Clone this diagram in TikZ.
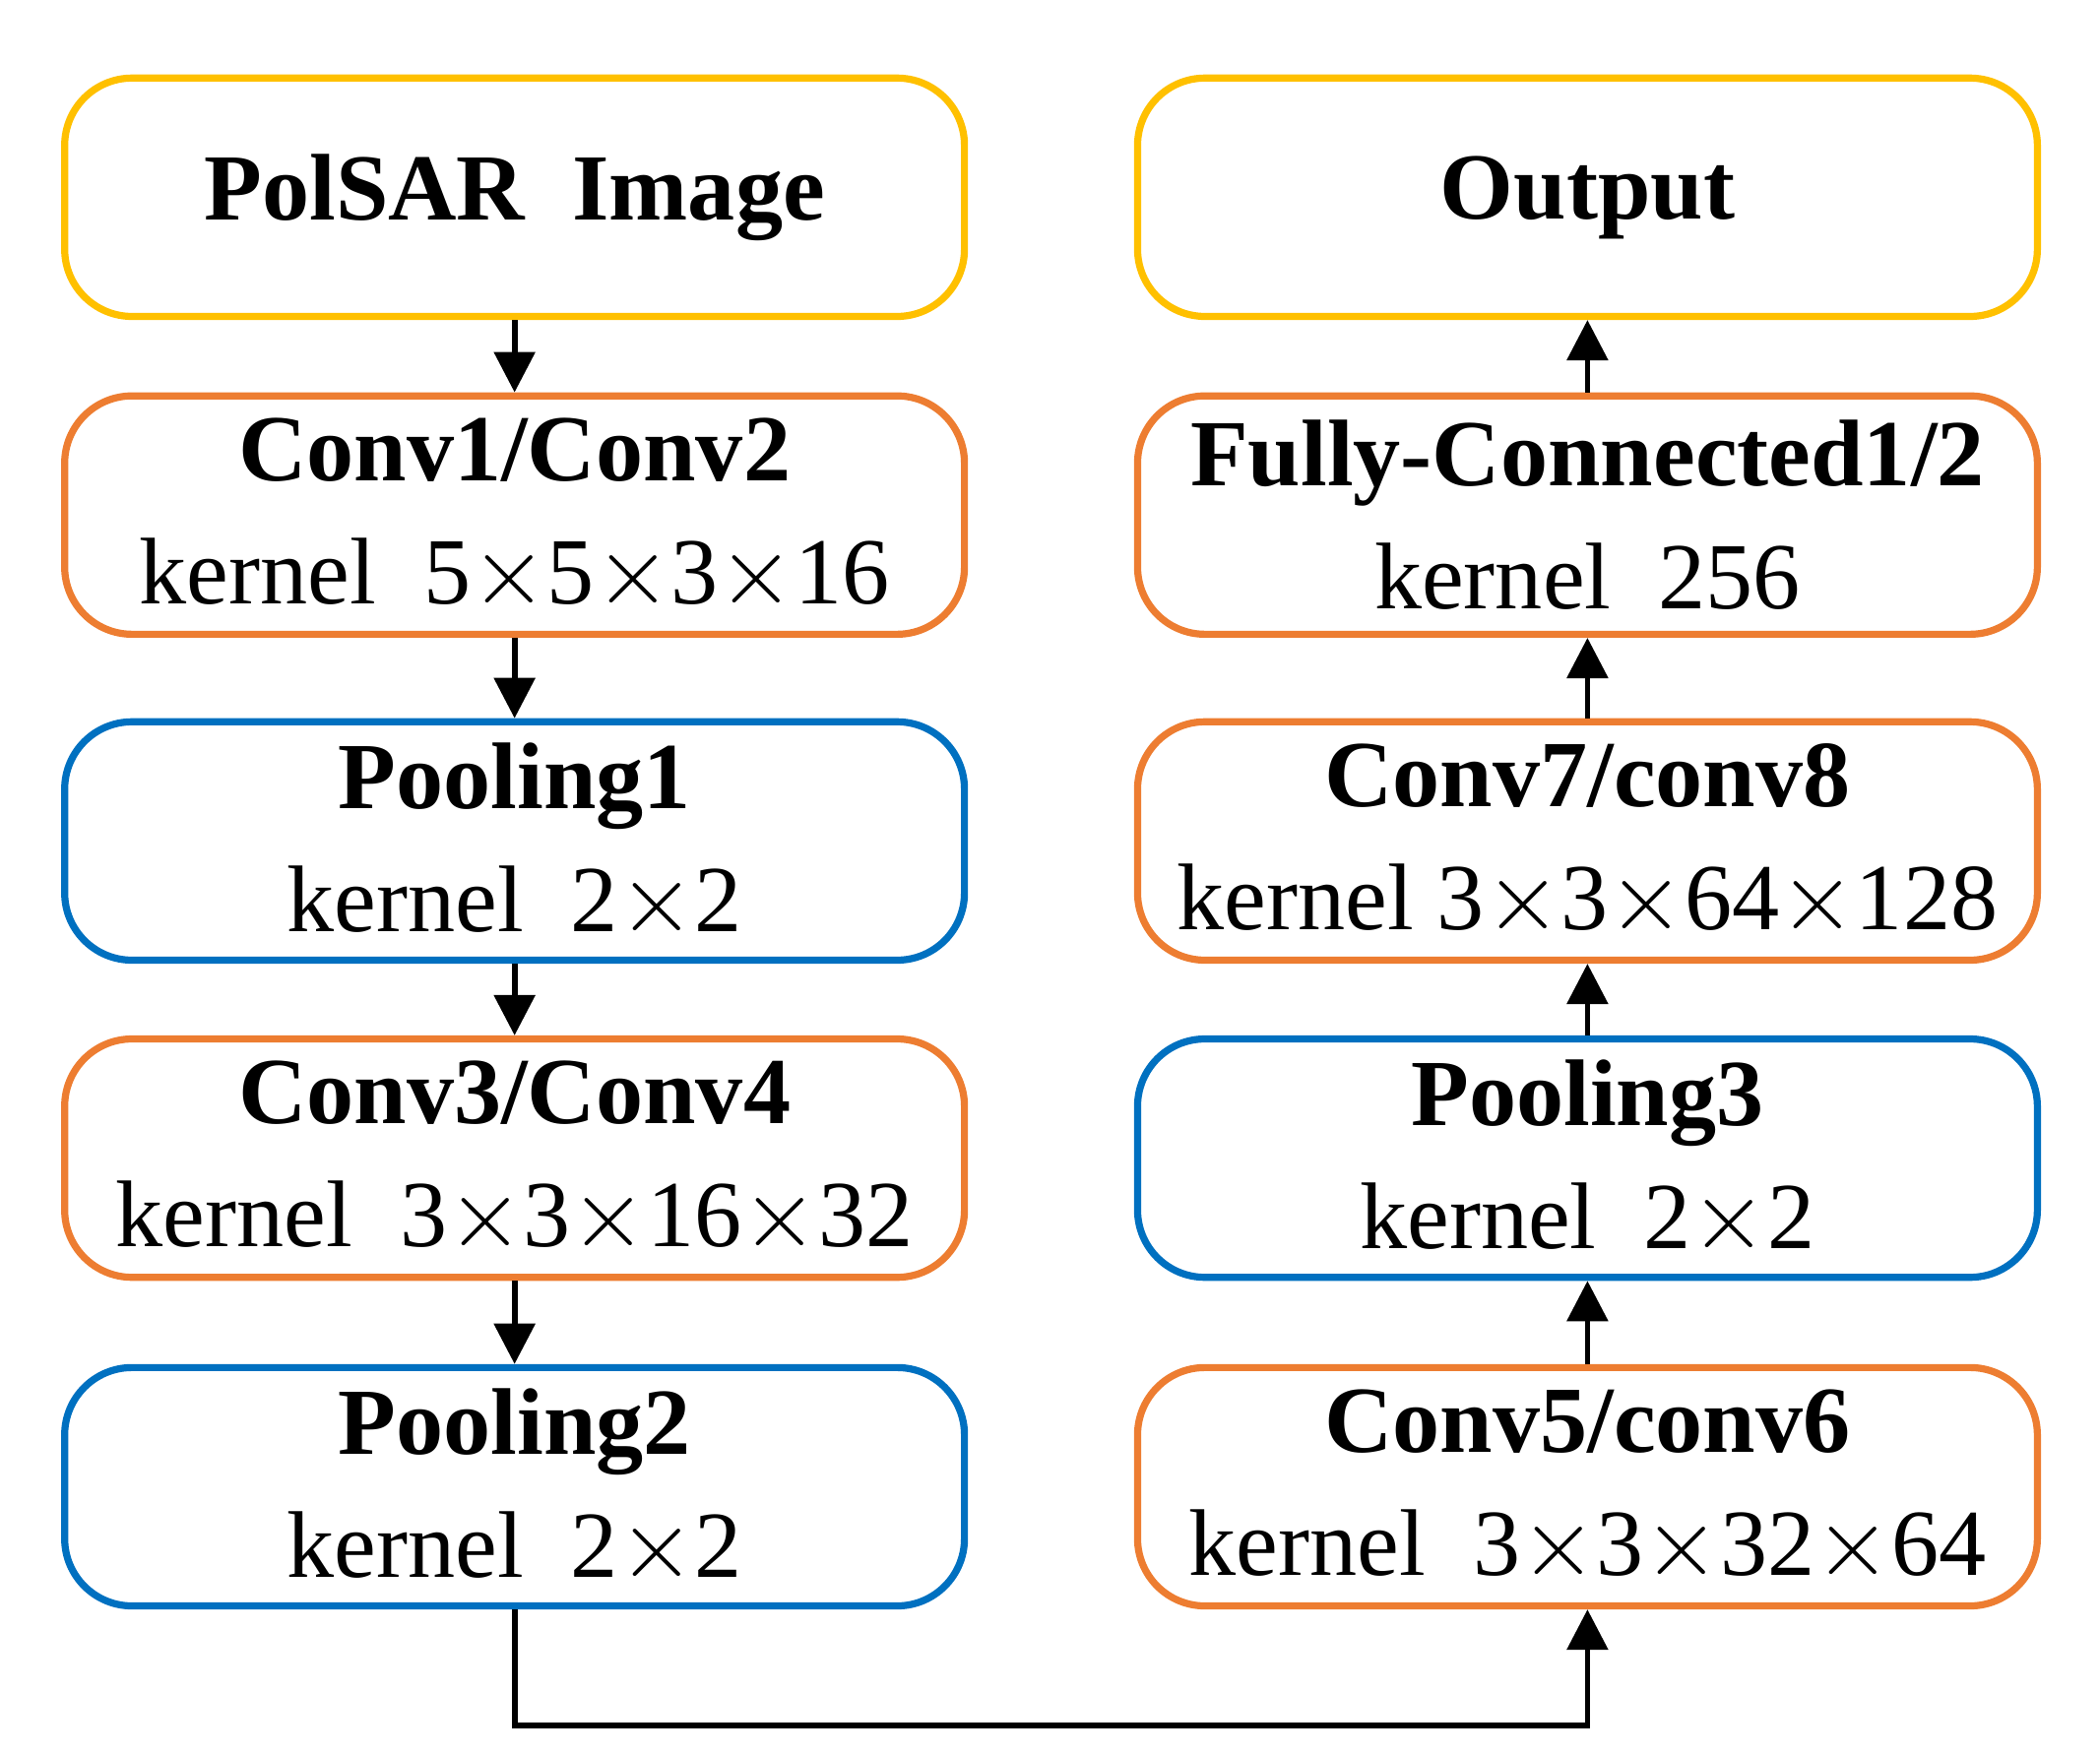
\documentclass[tikz,border=0pt]{standalone}
\usepackage{fontspec}
\setmainfont{Liberation Serif}
\usetikzlibrary{arrows.meta}
\definecolor{convorange}{RGB}{237,125,49}
\definecolor{poolblue}{RGB}{0,112,192}
\definecolor{ioyellow}{RGB}{255,192,0}
\begin{document}
\begin{tikzpicture}
			\tikzset{layer/.style={draw, line width=1.5pt, rounded corners=0.5cm, minimum width=6.68cm, minimum height=1.77cm, align=center, font=\fontsize{20}{26}\selectfont},
				io/.style={layer, color=ioyellow, text=black},
				conv/.style={layer, color=convorange, text=black},
				pool/.style={layer, color=poolblue, text=black},
				flow/.style={-{Triangle[length=3mm,width=3mm]}, line width=1.2pt}}
			\useasboundingbox (0,0) rectangle (15.59,13.03);

			\node (img) at (3.82,11.565) [io] {\textbf{PolSAR\ \ Image}};
			\node (conva) at (3.82,9.205) [conv] {\textbf{Conv1/Conv2}\\kernel\ \ 5$\times$5$\times$3$\times$16};
			\node (poola) at (3.82,6.785) [pool] {\textbf{Pooling1}\\kernel\ \ 2$\times$2};
			\node (convb) at (3.82,4.43) [conv] {\textbf{Conv3/Conv4}\\kernel\ \ 3$\times$3$\times$16$\times$32};
			\node (poolb) at (3.82,1.99) [pool] {\textbf{Pooling2}\\kernel\ \ 2$\times$2};

			\node (convc) at (11.785,1.99) [conv] {\textbf{Conv5/conv6}\\kernel\ \ 3$\times$3$\times$32$\times$64};
			\node (poolc) at (11.785,4.43) [pool] {\textbf{Pooling3}\\kernel\ \ 2$\times$2};
			\node (convd) at (11.785,6.785) [conv] {\textbf{Conv7/conv8}\\kernel 3$\times$3$\times$64$\times$128};
			\node (fc) at (11.785,9.205) [conv] {\textbf{Fully-Connected1/2}\\kernel\ \ 256};
			\node (out) at (11.785,11.565) [io] {\textbf{Output}};

			\draw [flow] (img) -- (conva);
			\draw [flow] (conva) -- (poola);
			\draw [flow] (poola) -- (convb);
			\draw [flow] (convb) -- (poolb);
			\draw [flow] (poolb.south) -- ++(0,-0.86) -| (convc.south);
			\draw [flow] (convc) -- (poolc);
			\draw [flow] (poolc) -- (convd);
			\draw [flow] (convd) -- (fc);
			\draw [flow] (fc) -- (out);
		\end{tikzpicture}
\end{document}
